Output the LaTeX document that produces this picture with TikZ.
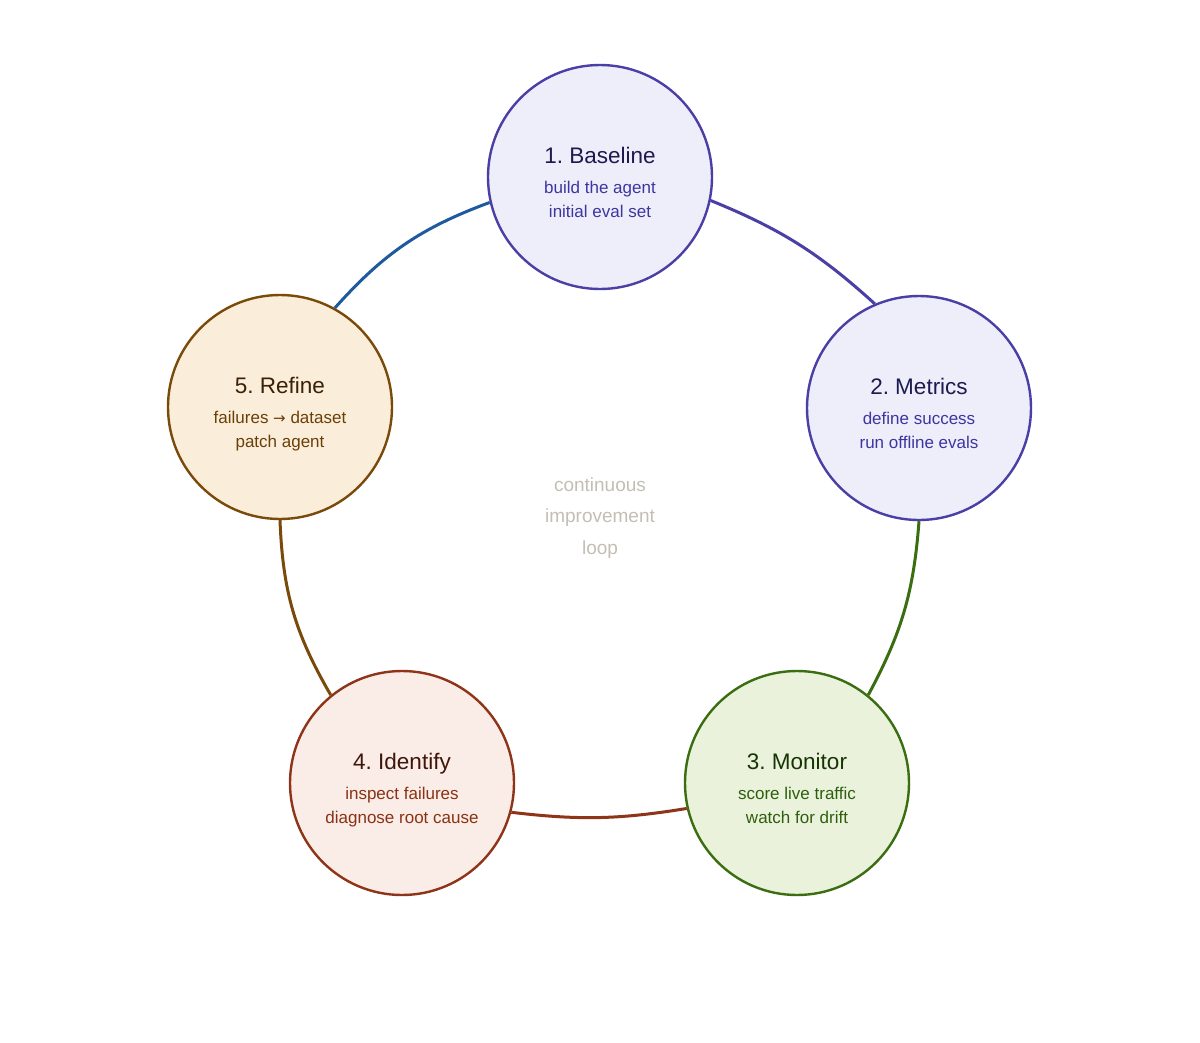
\documentclass[tikz,border=0pt]{standalone}
\usepackage{fontspec}
\setmainfont{Liberation Sans}
\newfontfamily\arrowfont{DejaVu Sans}
\frenchspacing
\definecolor{purS}{HTML}{4A3FA5}
\definecolor{purF}{HTML}{EEEEFA}
\definecolor{purT}{HTML}{1C1A4F}
\definecolor{purU}{HTML}{3D35A0}
\definecolor{grnS}{HTML}{3B6D11}
\definecolor{grnF}{HTML}{EAF2DC}
\definecolor{grnT}{HTML}{173404}
\definecolor{grnU}{HTML}{2F5F0E}
\definecolor{redS}{HTML}{8E3418}
\definecolor{redF}{HTML}{FAECE7}
\definecolor{redT}{HTML}{3F160A}
\definecolor{redU}{HTML}{8A3214}
\definecolor{orgS}{HTML}{7A4A0B}
\definecolor{orgF}{HTML}{FAEEDB}
\definecolor{orgT}{HTML}{3A2004}
\definecolor{orgU}{HTML}{6B3F08}
\definecolor{bluE}{HTML}{1F5A9E}
\definecolor{ctrT}{HTML}{C3BFB4}
\begin{document}
\begin{tikzpicture}[x=1pt,y=1pt,
  stage/.style={circle,minimum size=224pt,inner sep=0pt,line width=2.4pt},
  ttl/.style={anchor=base,inner sep=0pt,font=\fontsize{22.5}{26}\selectfont},
  sub/.style={anchor=base,inner sep=0pt,font=\fontsize{17}{20}\selectfont},
  ctr/.style={anchor=base,inner sep=0pt,text=ctrT,font=\fontsize{19}{22}\selectfont},
  link/.style={line width=3pt}]
\useasboundingbox (0,0) rectangle (1200,-1042);
\fill[white] (0,0) rectangle (1200,-1042);
% circles
\node[stage,draw=purS,fill=purF] (base) at (600,-177) {};
\node[stage,draw=purS,fill=purF] (metr) at (919,-408) {};
\node[stage,draw=grnS,fill=grnF] (moni) at (797,-783) {};
\node[stage,draw=redS,fill=redF] (iden) at (402,-783) {};
\node[stage,draw=orgS,fill=orgF] (refi) at (280,-407) {};
% links
\draw[link,bluE] (refi.61) to[bend left=14] (base.193.8);
\draw[link,purS] (base.348.2) to[bend left=10] (metr.113.7);
\draw[link,grnS] (metr.270) to[bend left=12] (moni.51.7);
\draw[link,redS] (moni.193.7) to[bend left=8] (iden.345.2);
\draw[link,orgS] (iden.129.7) to[bend left=14] (refi.270);
% texts
\node[ttl,text=purT] (t1) at ([yshift=13.5]base.center) {1. Baseline};
\node[sub,text=purU] (s1a) at ([yshift=-16]base.center) {build the agent};
\node[sub,text=purU] (s1b) at ([yshift=-40]base.center) {initial eval set};
\node[ttl,text=purT] (t2) at ([yshift=13.5]metr.center) {2. Metrics};
\node[sub,text=purU] (s2a) at ([yshift=-16]metr.center) {define success};
\node[sub,text=purU] (s2b) at ([yshift=-40]metr.center) {run offline evals};
\node[ttl,text=grnT] (t3) at ([yshift=13.5]moni.center) {3. Monitor};
\node[sub,text=grnU] (s3a) at ([yshift=-16]moni.center) {score live traffic};
\node[sub,text=grnU] (s3b) at ([yshift=-40]moni.center) {watch for drift};
\node[ttl,text=redT] (t4) at ([yshift=13.5]iden.center) {4. Identify};
\node[sub,text=redU] (s4a) at ([yshift=-16]iden.center) {inspect failures};
\node[sub,text=redU] (s4b) at ([yshift=-40]iden.center) {diagnose root cause};
\node[ttl,text=orgT] (t5) at ([yshift=13.5]refi.center) {5. Refine};
\node[sub,text=orgU] (s5a) at ([yshift=-16]refi.center) {failures {\arrowfont\fontsize{15}{18}\selectfont →} dataset};
\node[sub,text=orgU] (s5b) at ([yshift=-40]refi.center) {patch agent};
% center label
\node[ctr] (c1) at (600,-491) {continuous};
\node[ctr] (c2) at (600,-522.5) {improvement};
\node[ctr] (c3) at (600,-554) {loop};
\end{tikzpicture}
\end{document}
